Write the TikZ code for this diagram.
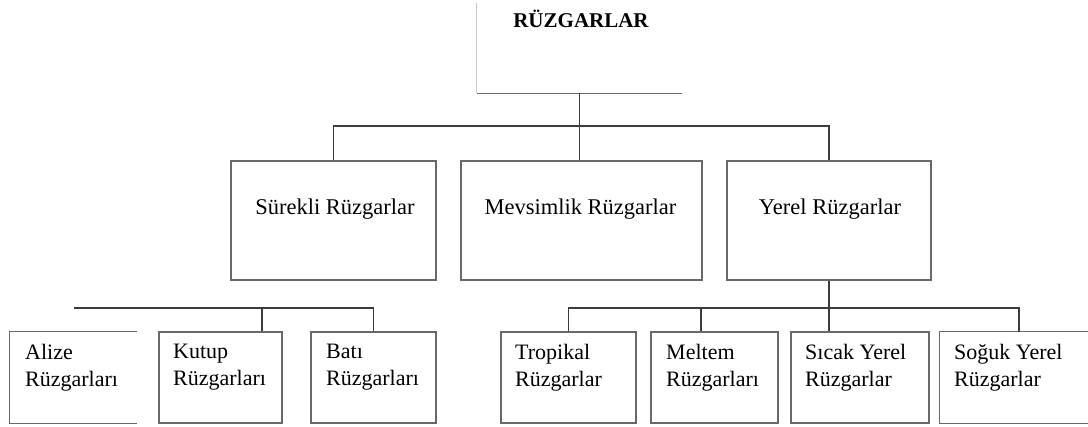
\documentclass[tikz,border=0pt]{standalone}
\usepackage{fontspec}
\setmainfont{Liberation Serif}
\definecolor{boxgray}{RGB}{105,105,105}
\definecolor{conngray}{RGB}{60,60,60}
\definecolor{lightline}{RGB}{200,200,200}
\begin{document}
\begin{tikzpicture}[x=1pt,y=-1pt,
  frame/.style={draw=boxgray,line width=1.3pt,rectangle,inner sep=0pt},
  open/.style={rectangle,inner sep=0pt},
  edge3/.style={draw=boxgray,line width=1.3pt},
  conn/.style={draw=conngray,line width=1.2pt},
  midtext/.style={font=\fontsize{22.5}{27}\selectfont,anchor=base,inner sep=0pt},
  lowtext/.style={font=\fontsize{22}{27}\selectfont,align=left,anchor=north west,inner sep=0pt},
  toptext/.style={font=\bfseries\fontsize{21}{25}\selectfont,anchor=base,inner sep=0pt}]
\useasboundingbox (0,0) rectangle (1088,427);
\fill[white] (0,0) rectangle (1088,427);

% root
\node[open,minimum width=205pt,minimum height=90pt] (root) at (579.5,48) {};
\draw[draw=lightline,line width=1pt] (root.north west) -- (root.south west);
\draw[edge3] (root.south west) -- (root.south east);
\node[toptext] (roott) at (581,28) {RÜZGARLAR};

% level 2
\node[frame,minimum width=205pt,minimum height=119pt] (sur) at (333.5,220.5) {};
\node[frame,minimum width=241pt,minimum height=119pt] (mev) at (581.5,220.5) {};
\node[frame,minimum width=204pt,minimum height=119pt] (yer) at (829,220.5) {};
\node[midtext] (surt) at (335,215) {Sürekli Rüzgarlar};
\node[midtext] (mevt) at (580.5,215) {Mevsimlik Rüzgarlar};
\node[midtext] (yert) at (830,215) {Yerel Rüzgarlar};

% level 3
\node[open,minimum width=127pt,minimum height=91pt] (ali) at (73.5,377.5) {};
\draw[edge3] (ali.north east) -- (ali.north west) -- (ali.south west) -- (ali.south east);
\node[frame,minimum width=123pt,minimum height=91pt] (kut) at (220.5,377.5) {};
\node[frame,minimum width=125pt,minimum height=91pt] (bat) at (373.5,377.5) {};
\node[frame,minimum width=135pt,minimum height=91pt] (tro) at (568.5,377.5) {};
\node[frame,minimum width=127pt,minimum height=91pt] (mel) at (714.5,377.5) {};
\node[frame,minimum width=138pt,minimum height=91pt] (sic) at (860,377.5) {};
\node[open,minimum width=148pt,minimum height=91pt] (sog) at (1014,377.5) {};
\draw[edge3] (sog.north east) -- (sog.north west) -- (sog.south west) -- (sog.south east);

\node[lowtext] (alit) at (25,344) {Alize\\Rüzgarları};
\node[lowtext] (kutt) at (173,344) {Kutup\\Rüzgarları};
\node[lowtext] (batt) at (326,344) {Batı\\Rüzgarları};
\node[lowtext] (trot) at (515,344) {Tropikal\\Rüzgarlar};
\node[lowtext] (melt) at (666,344) {Meltem\\Rüzgarları};
\node[lowtext] (sict) at (805,344) {Sıcak Yerel\\Rüzgarlar};
\node[lowtext] (sogt) at (954,344) {Soğuk Yerel\\Rüzgarlar};

% connectors
\coordinate (topbus) at (579.5,126);
\coordinate (lowbus) at (0,308);
\coordinate (kj) at (262,308);
\coordinate (mj) at (701,308);
\coordinate (sj) at (1019,308);

\draw[conn] (root.south) -- (root.south |- mev.north);
\draw[conn] (sur.north) -- (sur.north |- topbus) -- (yer.north |- topbus) -- (yer.north);

\draw[conn] (ali.north |- lowbus) -- (bat.north |- lowbus) -- (bat.north);
\draw[conn] (kj) -- (kj |- kut.north);

\draw[conn] (yer.south) -- (yer.south |- sic.north);
\draw[conn] (tro.north) -- (tro.north |- lowbus) -- (sj) -- (sj |- sog.north);
\draw[conn] (mj) -- (mj |- mel.north);
\end{tikzpicture}
\end{document}
